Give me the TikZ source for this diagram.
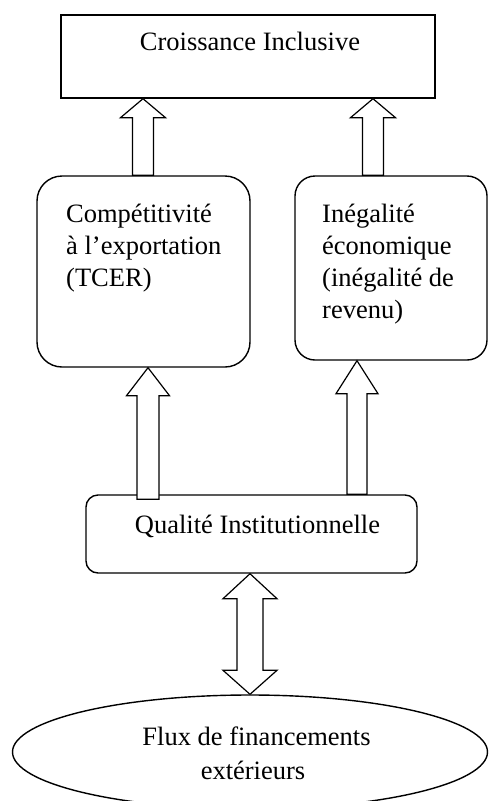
\documentclass[tikz,border=0pt]{standalone}
\usepackage{fontspec}
\setmainfont{Liberation Serif}
\usetikzlibrary{calc,shapes.geometric}
\tikzset{
  box/.style={draw, line width=1.4pt, inner sep=0pt},
  txt/.style={inner sep=0pt, font=\fontsize{26.5}{32}\selectfont},
  blk/.style={draw, line width=1.2pt, fill=white, line join=miter}
}
% #1 x, #2 half shaft, #3 half head, #4 head length, #5 bottom anchor, #6 top anchor
\newcommand\blkup[6]{\draw[blk] let \p1=(#5), \p2=(#6) in
  (#1pt-#2pt,\y1) -- (#1pt-#2pt,\y2-#4pt) -- (#1pt-#3pt,\y2-#4pt) -- (#1pt,\y2)
  -- (#1pt+#3pt,\y2-#4pt) -- (#1pt+#2pt,\y2-#4pt) -- (#1pt+#2pt,\y1) -- cycle;}
\begin{document}
\begin{tikzpicture}[x=1pt,y=-1pt]
\useasboundingbox (0,0) rectangle (488,801);
% nodes
\node[box, rectangle, minimum width=374pt, minimum height=83pt] (top) at (248,56.5) {};
\node[txt, anchor=base] (toptxt) at (250,50) {Croissance Inclusive};
\node[box, rectangle, rounded corners=25pt, minimum width=213pt, minimum height=191pt] (comp) at (143.5,271.5) {};
\node[txt, anchor=north west, align=left] (comptxt) at (66,199.6) {\strut Compétitivité\\à l’exportation\\(TCER)};
\node[box, rectangle, rounded corners=20pt, minimum width=192pt, minimum height=184pt] (ineg) at (391,268) {};
\node[txt, anchor=north west, align=left] (inegtxt) at (322,199.6) {\strut Inégalité\\économique\\(inégalité de\\revenu)};
\node[box, rectangle, rounded corners=12pt, minimum width=331pt, minimum height=78pt] (qual) at (251.5,534) {};
\node[txt, anchor=base] (qualtxt) at (257.5,533) {Qualité Institutionnelle};
\node[box, ellipse, minimum width=475pt, minimum height=114pt] (flux) at (250,752) {};
\node[txt, anchor=base] (fluxa) at (256.5,745) {Flux de financements};
\node[txt, anchor=base] (fluxb) at (253,779) {extérieurs};
% block arrows
\blkup{143}{10.5}{22.5}{19}{comp.north}{top.south}
\blkup{373}{10.5}{22.5}{19}{ineg.north}{top.south}
\blkup{148}{11}{21.5}{28}{$(qual.north)+(0,5)$}{comp.south}
\blkup{357}{10}{21}{33}{qual.north}{ineg.south}
% double arrow
\draw[blk] let \p1=(flux.north), \p2=(qual.south) in
  (250pt,\y2) -- (277pt,\y2-25pt) -- (263pt,\y2-25pt) -- (263pt,\y1+24pt) -- (277pt,\y1+24pt)
  -- (250pt,\y1) -- (223pt,\y1+24pt) -- (237pt,\y1+24pt) -- (237pt,\y2-25pt) -- (223pt,\y2-25pt) -- cycle;
\end{tikzpicture}
\end{document}
